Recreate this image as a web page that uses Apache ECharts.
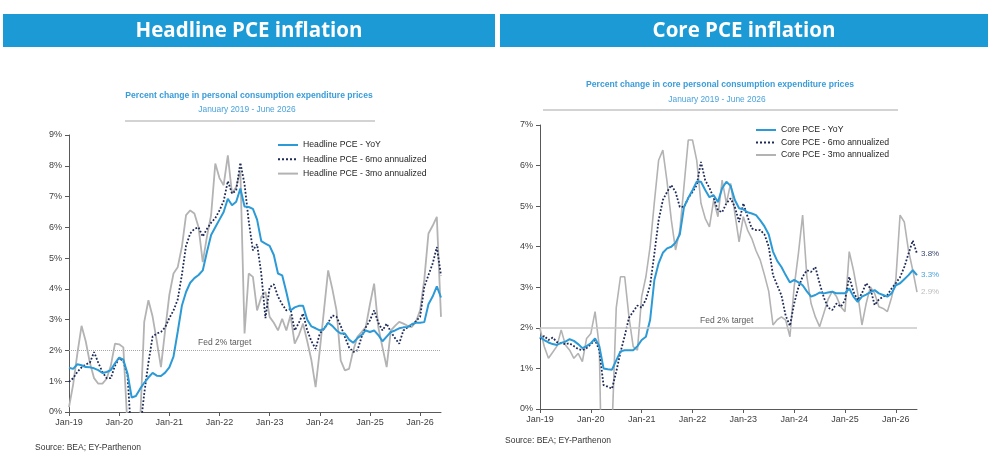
<!DOCTYPE html>
<html>
<head>
<meta charset="utf-8">
<title>PCE inflation</title>
<script src="https://cdn.jsdelivr.net/npm/echarts@6/dist/echarts.min.js"></script>
<style>
html, body { margin: 0; padding: 0; background: #fff; }
#main { width: 1000px; height: 460px; }
</style>
</head>
<body>
<div id="main"></div>
<script>
// month labels Jan-19 ... Jun-26
var monthNames = ['Jan','Feb','Mar','Apr','May','Jun','Jul','Aug','Sep','Oct','Nov','Dec'];
var months = [];
for (var yr = 19; yr <= 26; yr++) {
    for (var mo = 0; mo < 12; mo++) {
        if (yr === 26 && mo > 5) break;
        months.push(monthNames[mo] + '-' + yr);
    }
}

// Headline PCE (%)
var headlineYoY = [
    1.44,1.40,1.55,1.52,1.46,1.45,1.42,1.36,1.27,1.30,1.36,1.58,
    1.77,1.70,1.25,0.47,0.52,0.75,0.95,1.12,1.27,1.18,1.17,1.28,
    1.45,1.80,2.60,3.45,3.90,4.20,4.35,4.45,4.60,5.20,5.75,6.00,
    6.25,6.50,6.93,6.72,6.83,7.26,6.68,6.66,6.60,6.25,5.55,5.47,
    5.40,5.10,4.50,4.44,3.90,3.30,3.40,3.45,3.45,3.00,2.78,2.72,
    2.65,2.70,2.90,2.80,2.65,2.55,2.55,2.35,2.25,2.40,2.50,2.65,
    2.60,2.65,2.50,2.30,2.45,2.60,2.65,2.72,2.75,2.76,2.85,2.90,
    2.90,2.92,3.50,3.75,4.08,3.72
];
var headline6m = [
    0.98,1.10,1.30,1.45,1.55,1.60,1.95,1.60,1.30,1.10,1.10,1.50,
    1.75,1.65,1.20,-1.00,-1.50,-0.60,0.60,1.60,2.45,2.55,2.60,2.75,
    3.05,3.30,3.65,4.45,5.40,5.80,5.95,6.00,5.70,5.95,6.15,6.30,
    6.55,6.85,7.50,7.10,7.20,8.10,7.40,6.20,5.25,5.45,4.50,3.05,
    4.05,4.15,3.75,3.50,3.30,3.35,2.65,2.90,3.20,2.65,2.30,2.05,
    2.55,2.70,2.90,3.14,3.09,2.80,2.44,2.10,1.95,2.00,2.44,2.75,
    2.98,3.30,2.90,2.65,2.87,2.60,2.40,2.22,2.65,2.75,2.82,2.95,
    3.09,4.06,4.45,4.82,5.36,4.44
];
var headline3m = [
    0.16,0.90,1.90,2.80,2.30,1.60,1.10,0.92,0.92,1.08,1.50,2.22,
    2.20,2.10,-0.50,-5.00,-4.00,-0.40,2.93,3.63,3.10,2.30,1.46,2.65,
    3.80,4.50,4.70,5.36,6.40,6.55,6.45,6.00,4.87,5.70,6.40,8.07,
    7.60,7.37,8.34,7.10,7.31,7.85,2.55,4.50,4.39,3.30,3.74,3.90,
    3.09,2.90,2.65,3.03,2.65,3.14,2.22,2.50,2.87,2.30,1.68,0.81,
    2.00,3.30,4.60,4.00,3.30,1.68,1.35,1.40,2.00,2.44,2.60,2.76,
    3.50,4.17,2.76,2.10,1.46,2.65,2.80,2.93,2.87,2.80,2.76,2.93,
    3.30,4.30,5.80,6.05,6.34,3.09
];

// Core PCE (%)
var coreYoY = [
    1.78,1.70,1.64,1.60,1.58,1.63,1.66,1.72,1.68,1.60,1.50,1.55,
    1.62,1.74,1.55,1.00,0.98,0.97,1.20,1.42,1.45,1.45,1.45,1.55,
    1.70,1.78,2.20,3.18,3.59,3.85,3.96,4.00,4.10,4.30,4.98,5.20,
    5.39,5.60,5.60,5.40,5.22,5.27,5.10,5.44,5.60,5.50,5.15,4.95,
    4.92,4.85,4.82,4.78,4.65,4.50,4.30,3.88,3.65,3.50,3.30,3.12,
    3.18,3.12,3.05,2.90,2.77,2.81,2.87,2.85,2.87,2.89,2.85,2.85,
    2.85,2.97,2.77,2.64,2.77,2.82,2.88,2.93,2.85,2.81,2.77,2.85,
    3.05,3.10,3.20,3.30,3.42,3.30
];
var core6m = [
    1.72,1.80,1.70,1.76,1.65,1.62,1.60,1.62,1.55,1.48,1.45,1.50,
    1.60,1.70,1.45,0.59,0.55,0.50,0.92,1.40,1.80,2.25,2.40,2.55,
    2.50,2.70,3.05,3.83,4.65,5.15,5.35,5.52,5.35,4.98,4.98,5.20,
    5.35,5.52,6.09,5.64,5.45,5.20,4.90,4.85,5.07,5.19,4.98,4.61,
    5.07,4.74,4.45,4.41,4.41,4.30,4.00,3.30,3.05,2.80,2.30,2.05,
    2.60,3.00,3.26,3.42,3.38,3.50,3.10,2.75,2.50,2.44,2.60,2.52,
    2.68,3.26,2.89,2.68,2.85,3.10,2.97,2.56,2.70,2.77,2.81,2.97,
    3.10,3.25,3.50,3.83,4.15,3.83
];
var core3m = [
    1.99,1.54,1.25,1.40,1.55,1.95,1.58,1.45,1.25,1.37,1.17,1.74,
    1.86,2.40,1.53,-4.00,-3.00,-0.50,2.50,3.26,3.26,2.27,1.54,1.45,
    2.77,3.26,4.00,5.10,6.13,6.38,5.60,4.66,3.92,4.40,5.50,6.63,
    6.63,6.13,5.07,4.70,4.49,5.15,4.74,5.64,5.07,5.56,4.82,4.12,
    4.74,4.41,4.20,3.90,3.67,3.30,2.90,2.07,2.20,2.27,2.19,1.78,
    3.01,3.83,4.78,3.26,2.60,2.27,2.03,2.36,2.70,2.90,2.77,2.52,
    2.40,3.88,3.42,2.85,2.07,2.60,3.01,2.85,2.52,2.48,2.40,2.75,
    3.18,4.78,4.61,3.90,3.42,2.88
];

var blue = '#2b9ad6';
var navy = '#1d2a58';
var grey = '#b3b3b3';
var banner = '#1b9ad6';
var font = '"Liberation Sans", Arial, sans-serif';

var dom = document.getElementById('main');
var myChart = echarts.init(dom);

function xAxisFor(idx) {
    return {
        gridIndex: idx,
        type: 'category',
        data: months,
        boundaryGap: false,
        axisLine: { lineStyle: { color: '#595959', width: 1 } },
        axisTick: { interval: 11, length: 4, lineStyle: { color: '#595959' } },
        axisLabel: { interval: 11, color: '#404040', fontSize: 9, margin: 6 },
        splitLine: { show: false }
    };
}
function yAxisFor(idx, max) {
    return {
        gridIndex: idx,
        type: 'value',
        min: 0,
        max: max,
        interval: 1,
        axisLine: { show: true, lineStyle: { color: '#595959', width: 1 } },
        axisTick: { show: true, length: 4, lineStyle: { color: '#595959' } },
        axisLabel: { formatter: '{value}%', color: '#404040', fontSize: 9, margin: 7 },
        splitLine: { show: false }
    };
}
function endLbl(color) {
    return {
        show: true,
        color: color,
        fontSize: 8,
        distance: 4,
        formatter: function (p) { return p.value.toFixed(1) + '%'; }
    };
}
function legendFor(left, top, gap, names) {
    return {
        left: left, top: top, orient: 'vertical', padding: 0,
        itemWidth: 20, itemHeight: 8, itemGap: gap,
        itemStyle: { opacity: 0 },          // hide the marker, keep the line sample
        textStyle: { fontSize: 8.7, color: '#262626', lineHeight: 12 },
        data: names
    };
}

option = {
    animation: false,
    backgroundColor: '#fff',
    textStyle: { fontFamily: font },
    graphic: [
        // banners
        { type: 'rect', shape: { x: 3, y: 14, width: 492, height: 33 }, style: { fill: banner } },
        { type: 'rect', shape: { x: 500, y: 14, width: 488, height: 33 }, style: { fill: banner } },
        { type: 'text', x: 249, y: 31, style: { text: 'Headline PCE inflation', fill: '#fff', font: 'bold 20.5px "Open Sans"', textAlign: 'center', textVerticalAlign: 'middle' } },
        { type: 'text', x: 744, y: 31, style: { text: 'Core PCE inflation', fill: '#fff', font: 'bold 20.5px "Open Sans"', textAlign: 'center', textVerticalAlign: 'middle' } },
        // chart subtitles
        { type: 'text', x: 249, y: 96, style: { text: 'Percent change in personal consumption expenditure prices', fill: '#3a9cd9', font: 'bold 8.6px ' + font, textAlign: 'center', textVerticalAlign: 'middle' } },
        { type: 'text', x: 247, y: 110, style: { text: 'January 2019 - June 2026', fill: '#4aa3dc', font: '8.4px ' + font, textAlign: 'center', textVerticalAlign: 'middle' } },
        { type: 'line', shape: { x1: 125, y1: 121, x2: 375, y2: 121 }, style: { stroke: '#c4c4c4', lineWidth: 1.5 } },
        { type: 'text', x: 720, y: 85, style: { text: 'Percent change in core personal consumption expenditure prices', fill: '#3a9cd9', font: 'bold 8.6px ' + font, textAlign: 'center', textVerticalAlign: 'middle' } },
        { type: 'text', x: 717, y: 100, style: { text: 'January 2019 - June 2026', fill: '#4aa3dc', font: '8.4px ' + font, textAlign: 'center', textVerticalAlign: 'middle' } },
        { type: 'line', shape: { x1: 543, y1: 110, x2: 898, y2: 110 }, style: { stroke: '#c4c4c4', lineWidth: 1.5 } },
        // sources
        { type: 'text', x: 35, y: 448, style: { text: 'Source: BEA; EY-Parthenon', fill: '#333', font: '8.5px ' + font, textVerticalAlign: 'middle' } },
        { type: 'text', x: 505, y: 441, style: { text: 'Source: BEA; EY-Parthenon', fill: '#333', font: '8.5px ' + font, textVerticalAlign: 'middle' } }
    ],
    legend: [
        legendFor(277, 139, 2.3, ['Headline PCE - YoY', 'Headline PCE - 6mo annualized', 'Headline PCE - 3mo annualized']),
        legendFor(755, 124, 0.5, ['Core PCE - YoY', 'Core PCE - 6mo annualized', 'Core PCE - 3mo annualized'])
    ],
    grid: [
        { left: 69, top: 135, width: 372, height: 277 },
        { left: 540, top: 125, width: 377, height: 284 }
    ],
    xAxis: [xAxisFor(0), xAxisFor(1)],
    yAxis: [yAxisFor(0, 9), yAxisFor(1, 7)],
    series: [
        {
            name: 'Headline PCE - 3mo annualized', type: 'line', xAxisIndex: 0, yAxisIndex: 0,
            data: headline3m, symbol: 'none', lineStyle: { color: grey, width: 1.8 }, itemStyle: { color: grey },
            markLine: {
                silent: true, symbol: ['none', 'none'],
                lineStyle: { color: '#a6a6a6', type: 'dotted', width: 1 },
                label: { position: 'insideStartTop', distance: [129, 3], formatter: 'Fed 2% target', color: '#595959', fontSize: 8.5 },
                data: [{ yAxis: 2 }]
            }
        },
        {
            name: 'Headline PCE - 6mo annualized', type: 'line', xAxisIndex: 0, yAxisIndex: 0,
            data: headline6m, symbol: 'none', lineStyle: { color: navy, width: 1.8, type: 'dotted' }, itemStyle: { color: navy }
        },
        {
            name: 'Headline PCE - YoY', type: 'line', xAxisIndex: 0, yAxisIndex: 0,
            data: headlineYoY, symbol: 'none', lineStyle: { color: blue, width: 2 }, itemStyle: { color: blue }
        },
        {
            name: 'Core PCE - 3mo annualized', type: 'line', xAxisIndex: 1, yAxisIndex: 1,
            data: core3m, symbol: 'none', lineStyle: { color: grey, width: 1.6 }, itemStyle: { color: grey },
            endLabel: endLbl('#bcbcbc'),
            markLine: {
                silent: true, symbol: ['none', 'none'],
                lineStyle: { color: '#c8c8c8', type: 'solid', width: 1.5 },
                label: { position: 'insideStartTop', distance: [160, 3], formatter: 'Fed 2% target', color: '#595959', fontSize: 8.5 },
                data: [{ yAxis: 2 }]
            }
        },
        {
            name: 'Core PCE - 6mo annualized', type: 'line', xAxisIndex: 1, yAxisIndex: 1,
            data: core6m, symbol: 'none', lineStyle: { color: navy, width: 1.8, type: 'dotted' }, itemStyle: { color: navy },
            endLabel: endLbl('#3b4670')
        },
        {
            name: 'Core PCE - YoY', type: 'line', xAxisIndex: 1, yAxisIndex: 1,
            data: coreYoY, symbol: 'none', lineStyle: { color: blue, width: 2 }, itemStyle: { color: blue },
            endLabel: endLbl('#4aa3dc')
        }
    ]
};

if (option && typeof option === 'object') {
    myChart.setOption(option, true);
}
</script>
</body>
</html>
